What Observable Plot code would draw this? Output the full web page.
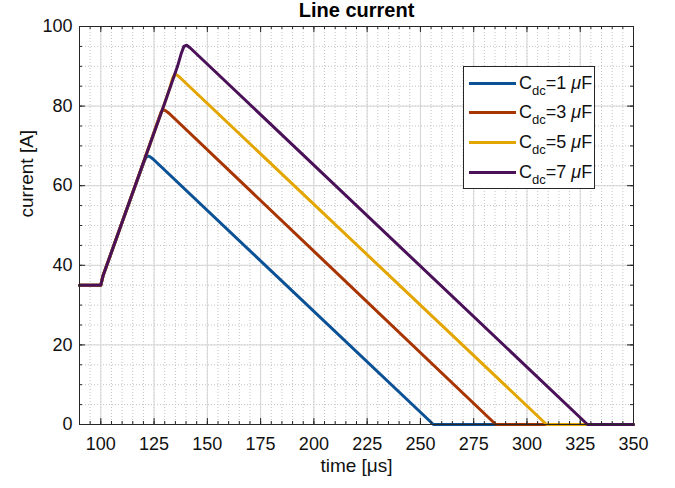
<!DOCTYPE html>
<html>
<head>
<meta charset="utf-8">
<script src="https://cdn.jsdelivr.net/npm/d3@7"></script>
<script src="https://cdn.jsdelivr.net/npm/@observablehq/plot@0.6"></script>
<style>
  html, body { margin: 0; padding: 0; background: #fff; }
  #wrap { position: relative; width: 675px; height: 488px; font-family: "Liberation Sans", Arial, sans-serif; }
  #legend { position: absolute; left: 463px; top: 66px; width: 132px; height: 123px; border: 1px solid #262626; background: #fff; box-sizing: border-box; }
  .row { position: absolute; left: 0; height: 24px; display: flex; align-items: center; font-size: 18px; color: #111; }
  .sw { width: 47px; height: 3px; margin-left: 5px; margin-right: 3px; }
  .row sub { font-size: 13px; vertical-align: -6px; line-height: 0; }
</style>
</head>
<body>
<div id="wrap">
  <div id="chart"></div>
  <div id="legend"></div>
</div>
<script>
// ---- data ----
const seriesNames = ["1", "3", "5", "7"];
const seriesColors = ["#0b5196", "#a83400", "#e3a600", "#4a1158"];

const tBlue   = [90, 100, 101, 110, 120, 121, 121.9, 123, 124.5, 256.1, 350];
const iBlue   = [35, 35, 37.3, 50.8, 65.6, 66.9, 67.5, 67.3, 66.7, 0, 0];
const tRed    = [90, 100, 101, 110, 120, 127, 128.3, 129.3, 130.5, 132, 285.4, 350];
const iRed    = [35, 35, 37.3, 50.8, 65.8, 76.6, 78.5, 79.1, 78.8, 78.2, 0, 0];
const tYellow = [90, 100, 101, 110, 120, 130, 132.5, 133.7, 134.7, 136, 137.5, 309.2, 350];
const iYellow = [35, 35, 37.3, 50.8, 65.8, 80.8, 84.8, 87.0, 88.0, 87.7, 87.0, 0, 0];
const tPurple = [90, 100, 101, 110, 120, 130, 136, 137.8, 139, 140.3, 142, 328.4, 350];
const iPurple = [35, 35, 37.3, 50.8, 65.8, 80.8, 90.0, 93.3, 95.0, 95.3, 94.6, 0, 0];

const xTicks = [100, 125, 150, 175, 200, 225, 250, 275, 300, 325, 350];
const yTicks = [0, 20, 40, 60, 80, 100];
const xMinor = d3.range(90, 351, 5);
const yMinor = d3.range(0, 101, 5);

const times = [tBlue, tRed, tYellow, tPurple];
const currents = [iBlue, iRed, iYellow, iPurple];
const rows = [];
times.forEach((ts, k) => ts.forEach((t, j) => rows.push({t, i: currents[k][j], s: seriesNames[k]})));

const W = 675, H = 488, mL = 79, mR = 42, mT = 26, mB = 64;
const pw = W - mL - mR, ph = H - mT - mB;
const ink = "#262626";

const chart = Plot.plot({
  width: W, height: H,
  marginLeft: mL, marginRight: mR, marginTop: mT, marginBottom: mB,
  style: {fontFamily: "'Liberation Sans', Arial, sans-serif", background: "white", overflow: "visible"},
  x: {domain: [90, 350]},
  y: {domain: [0, 100]},
  color: {domain: seriesNames, range: seriesColors},
  marks: [
    // minor grid (dotted)
    Plot.ruleX(xMinor, {stroke: "#c4c4c4", strokeDasharray: "1,2", strokeWidth: 1}),
    Plot.ruleY(yMinor, {stroke: "#c4c4c4", strokeDasharray: "1,2", strokeWidth: 1}),
    // major grid
    Plot.ruleX(xTicks, {stroke: "#d6d6d6", strokeWidth: 1}),
    Plot.ruleY(yTicks, {stroke: "#d6d6d6", strokeWidth: 1}),
    // data
    Plot.line(rows, {x: "t", y: "i", z: "s", stroke: "s", strokeWidth: 3, strokeLinejoin: "round", strokeLinecap: "round"}),
    // inward ticks (major)
    Plot.ruleX(xTicks, {stroke: ink, insetTop: ph - 6}),
    Plot.ruleX(xTicks, {stroke: ink, insetBottom: ph - 6}),
    Plot.ruleY(yTicks, {stroke: ink, insetRight: pw - 6}),
    Plot.ruleY(yTicks, {stroke: ink, insetLeft: pw - 6}),
    // inward ticks (minor)
    Plot.ruleX(xMinor, {stroke: ink, insetTop: ph - 3}),
    Plot.ruleX(xMinor, {stroke: ink, insetBottom: ph - 3}),
    Plot.ruleY(yMinor, {stroke: ink, insetRight: pw - 3}),
    Plot.ruleY(yMinor, {stroke: ink, insetLeft: pw - 3}),
    Plot.frame({stroke: ink, strokeWidth: 1}),
    Plot.axisX(xTicks, {tickSize: 0, tickPadding: 13, fontSize: 18, fill: "#111", label: null}),
    Plot.axisY(yTicks, {tickSize: 0, tickPadding: 7, fontSize: 18, fill: "#111", label: null}),
    Plot.text(["time [μs]"], {frameAnchor: "bottom", dy: 47, fontSize: 19, fill: "#111"}),
    Plot.text(["current [A]"], {frameAnchor: "left", dx: -53, dy: -8, rotate: -90, fontSize: 19, fill: "#111"}),
    Plot.text(["Line current"], {frameAnchor: "top", dy: -24, fontSize: 20, fontWeight: "bold", fill: "#000"})
  ]
});
document.getElementById("chart").appendChild(chart);

// legend
const lg = document.getElementById("legend");
const rowTops = [4, 33, 63, 93];
seriesNames.forEach((n, k) => {
  const r = document.createElement("div");
  r.className = "row";
  r.style.top = rowTops[k] + "px";
  r.innerHTML = `<span class="sw" style="background:${seriesColors[k]}"></span><span>C<sub>dc</sub>=${n} <i>μ</i>F</span>`;
  lg.appendChild(r);
});
</script>
</body>
</html>
